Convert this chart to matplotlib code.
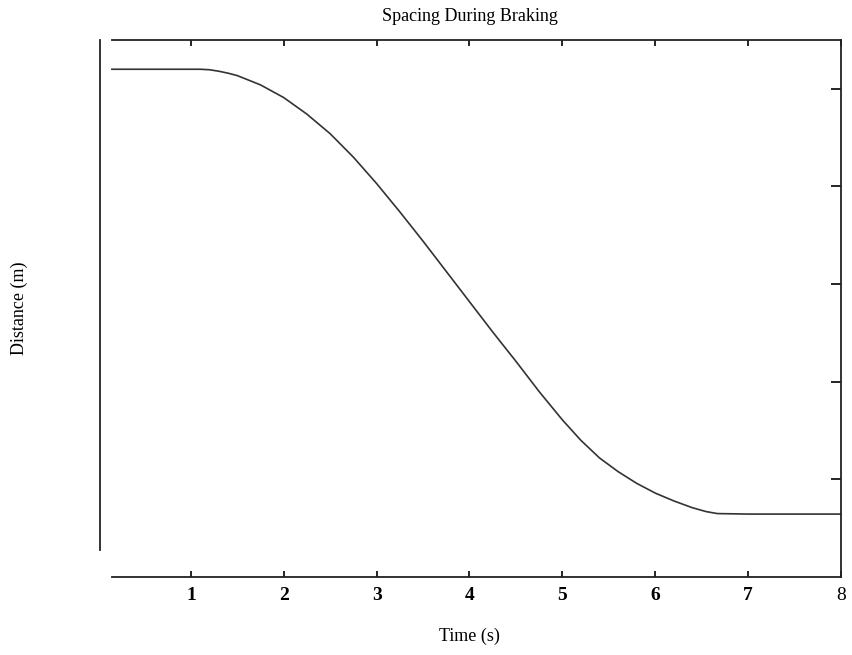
import matplotlib
matplotlib.use('Agg')
import matplotlib.pyplot as plt
import numpy as np

# spacing curve (distance in tick units)
time_s = [0.15, 0.5, 1.0, 1.1, 1.2, 1.3, 1.4, 1.5, 1.75, 2.0, 2.25, 2.5, 2.75,
          3.0, 3.25, 3.5, 3.75, 4.0, 4.25, 4.5, 4.75, 5.0, 5.2, 5.4, 5.6,
          5.8, 6.0, 6.2, 6.4, 6.55, 6.67, 7.0, 7.5, 8.0]
distance = [5.20, 5.20, 5.20, 5.20, 5.195, 5.18, 5.16, 5.135, 5.04, 4.91,
            4.74, 4.54, 4.30, 4.03, 3.74, 3.44, 3.13, 2.82, 2.51, 2.21, 1.90,
            1.61, 1.40, 1.22, 1.08, 0.96, 0.86, 0.78, 0.71, 0.67, 0.65, 0.645,
            0.645, 0.645]
xticks = [1, 2, 3, 4, 5, 6, 7, 8]
yticks = [1, 2, 3, 4, 5]

plt.rcParams['font.family'] = ['Liberation Serif', 'DejaVu Serif']

fig = plt.figure(figsize=(8.52, 6.55), dpi=100)
ax = fig.add_axes([0.115, 0.119, 0.872, 0.820])

ax.plot(time_s, distance, color='#333333', lw=1.2)

ax.set_xlim(0, 8)
ax.set_ylim(0, 5.5)

# spines like the scanned figure
for side in ['top', 'bottom', 'right', 'left']:
    ax.spines[side].set_linewidth(1.3)
    ax.spines[side].set_color('#222222')
ax.spines['bottom'].set_bounds(0.15, 8)
ax.spines['top'].set_bounds(0.15, 8)
ax.spines['left'].set_position(('data', 0.02))
ax.spines['left'].set_bounds(0.28, 5.5)

ax.set_xticks(xticks)
ax.set_xticklabels([str(v) for v in xticks])
for lab in ax.get_xticklabels()[:-1]:
    lab.set_fontweight('bold')
ax.tick_params(axis='x', direction='in', top=True, bottom=True, length=4.5,
               width=1.2, labelsize=14, pad=7)
ax.set_yticks(yticks)
ax.tick_params(axis='y', direction='in', left=False, right=True, length=7,
               width=1.2, labelleft=False, labelright=False)

ax.set_title('Spacing During Braking', fontsize=13, pad=14)
ax.set_xlabel('Time (s)', fontsize=13, labelpad=17)
ax.set_ylabel('Distance (m)', fontsize=13, labelpad=52)

fig.savefig('out.png', dpi=100)
